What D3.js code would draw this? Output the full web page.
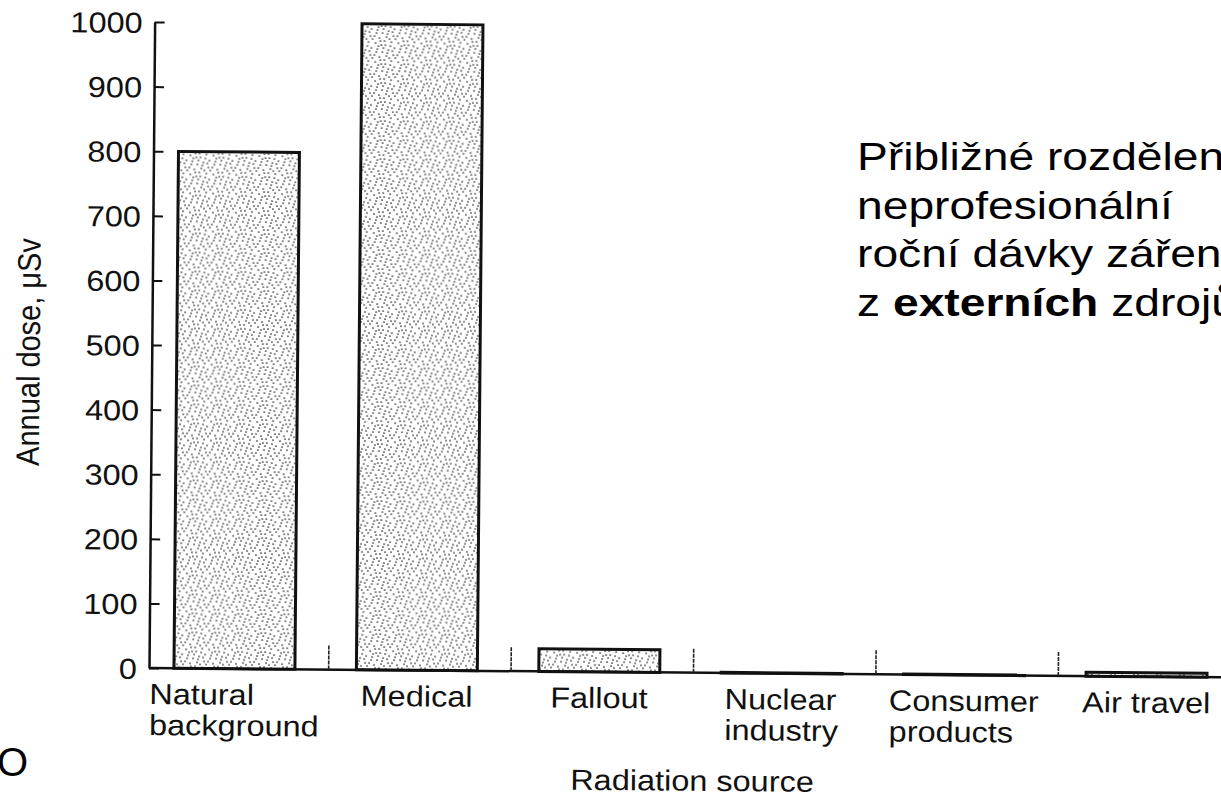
<!DOCTYPE html>
<html><head><meta charset="utf-8">
<script src="https://cdn.jsdelivr.net/npm/d3@7"></script>
<style>body{margin:0;background:#fff} svg{display:block}</style>
</head><body>
<svg id="chart" width="1221" height="797"></svg>
<script>
// ---- data ----
const categories = ["Natural\nbackground", "Medical", "Fallout", "Nuclear\nindustry", "Consumer\nproducts", "Air travel"];
const doses = [800, 1000, 35, 1, 1, 6];
const yTicks = [0, 100, 200, 300, 400, 500, 600, 700, 800, 900, 1000];
const yTitle = "Annual dose, \u03bcSv";
const xTitle = "Radiation source";
const noteLines = [
  [["P\u0159ibli\u017en\u00e9 rozd\u011blen\u00ed", false]],
  [["neprofesion\u00e1ln\u00ed", false]],
  [["ro\u010dn\u00ed d\u00e1vky z\u00e1\u0159en\u00ed", false]],
  [["z ", false], ["extern\u00edch", true], [" zdroj\u016f", false]]
];
const cornerText = "O";

// ---- drawing ----
const SX = 1.12;      // scanned chart is stretched horizontally
const SXN = 1.2;      // slide text stretch
const FS = 29;
const FONT = "'Liberation Sans', Arial, Helvetica, sans-serif";
const svg = d3.select("#chart");

// stipple texture for bars
const defs = svg.append("defs");
const pat = defs.append("pattern").attr("id", "stip")
  .attr("patternUnits", "userSpaceOnUse").attr("width", 23).attr("height", 19);
pat.append("rect").attr("width", 23).attr("height", 19).attr("fill", "#fff");
(function () {
  const pts = [[2,3],[7,1],[12,5],[18,2],[21,8],[4,9],[9,12],[15,10],[20,15],[1,15],
               [6,17],[13,16],[17,6],[10,8],[16,18],[3,12],[8,5],[14,13],[19,11],[11,1],[22,18],[5,6]];
  pat.selectAll("circle").data(pts).join("circle")
    .attr("cx", d => d[0]).attr("cy", d => d[1]).attr("r", 0.85).attr("fill", "#222");
})();

// scanned chart is slightly rotated
const g = svg.append("g").attr("transform", "rotate(0.5,150,668)");

const x = d3.scaleBand().domain(categories).range([153, 1228])
  .paddingInner(0.337).paddingOuter(0.115);
const y = d3.scaleLinear().domain([0, 1000]).range([668, 22]);

// bars
g.selectAll("rect.bar").data(doses).join("rect").attr("class", "bar")
  .attr("x", (d, i) => x(categories[i]))
  .attr("y", d => y(d))
  .attr("width", x.bandwidth())
  .attr("height", d => y(0) - y(d))
  .attr("fill", "url(#stip)")
  .attr("stroke", "#111").attr("stroke-width", 3);

// baseline
g.append("line").attr("x1", 149).attr("x2", 1270).attr("y1", y(0)).attr("y2", y(0))
  .attr("stroke", "#111").attr("stroke-width", 2.5);

// separators between categories
g.selectAll("line.sep").data(categories.slice(0, -1)).join("line").attr("class", "sep")
  .attr("x1", d => x(d) + x.bandwidth() + x.step() * x.paddingInner() / 2 + 3)
  .attr("x2", d => x(d) + x.bandwidth() + x.step() * x.paddingInner() / 2 + 3)
  .attr("y1", y(0)).attr("y2", y(0) - 24)
  .attr("stroke", "#222").attr("stroke-width", 1.6).attr("stroke-dasharray", "4,1");

// y axis
const ya = g.append("g").attr("transform", "translate(149,0)")
  .call(d3.axisLeft(y).tickValues(yTicks).tickFormat(d3.format("d"))
    .tickSizeInner(-10).tickSizeOuter(0).tickPadding(12));
ya.attr("font-family", FONT).attr("font-size", FS);
ya.select(".domain").attr("stroke", "#111").attr("stroke-width", 2.5);
ya.selectAll(".tick line").attr("stroke", "#111").attr("stroke-width", 2);
ya.selectAll(".tick text")
  .attr("x", 0).attr("dy", "0.36em")
  .attr("transform", `translate(-12,0) scale(${SX},1)`)
  .attr("font-family", FONT).attr("font-size", FS).attr("fill", "#111");

// category labels
categories.forEach((c) => {
  const lines = c.split("\n");
  const cx = x(c) + x.bandwidth() / 2;
  const texts = lines.map((t) => g.append("text")
    .attr("font-family", FONT).attr("font-size", FS).attr("fill", "#111")
    .attr("text-anchor", "start").text(t));
  const w = d3.max(texts, t => t.node().getComputedTextLength()) * SX;
  const left = cx - w / 2;
  texts.forEach((t, k) => t.attr("transform", `translate(${left},${704 + k * 31}) scale(${SX},1)`));
});

// axis titles
g.append("text").text(xTitle)
  .attr("font-family", FONT).attr("font-size", FS).attr("fill", "#111")
  .attr("text-anchor", "middle")
  .attr("transform", `translate(693,786) scale(${SX},1)`);
g.append("text").text(yTitle)
  .attr("font-family", FONT).attr("font-size", FS).attr("fill", "#111")
  .attr("text-anchor", "middle")
  .attr("transform", `translate(37,353) scale(${SX},1) rotate(-90)`);

// slide note
noteLines.forEach((segs, k) => {
  const t = svg.append("text")
    .attr("font-family", FONT).attr("font-size", 38.5).attr("fill", "#000")
    .attr("transform", `translate(857,${170 + k * 48.5}) scale(${SXN},1)`);
  segs.forEach(s => t.append("tspan").attr("font-weight", s[1] ? "bold" : "normal").text(s[0]));
});

// leftover slide glyph at bottom-left
svg.append("text").text(cornerText)
  .attr("font-family", FONT).attr("font-size", 40).attr("fill", "#000")
  .attr("text-anchor", "end")
  .attr("transform", `translate(28,776)`);
</script>
</body></html>
